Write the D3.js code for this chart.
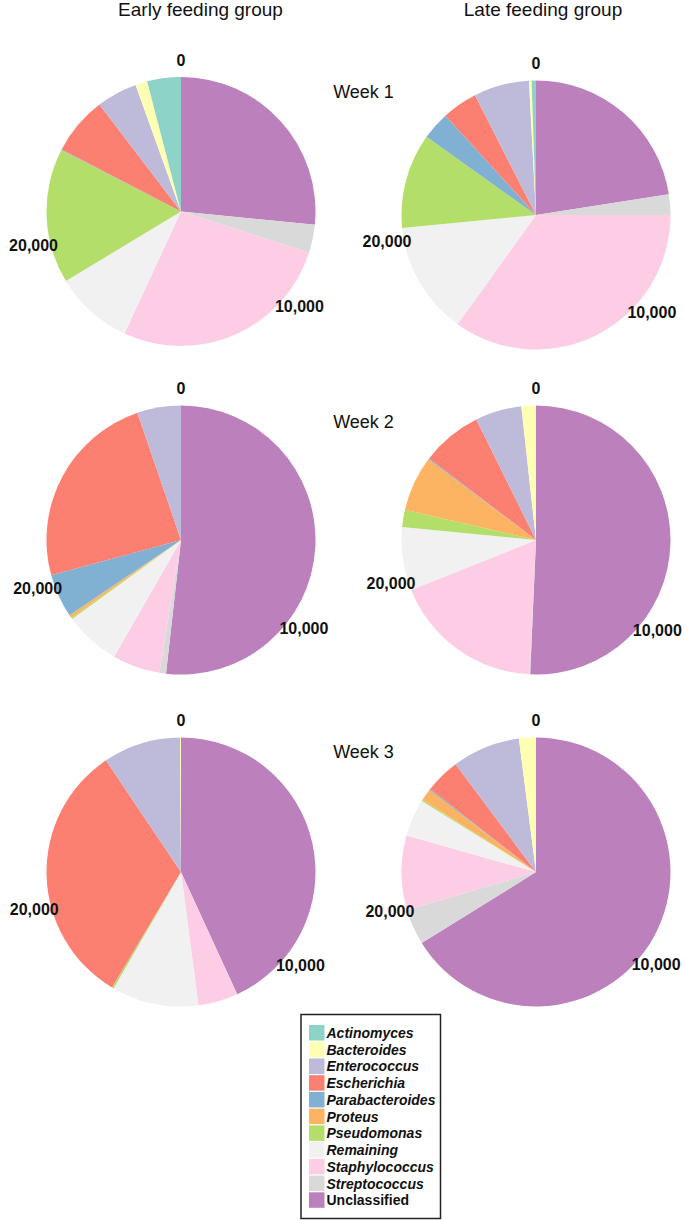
<!DOCTYPE html>
<html>
<head>
<meta charset="utf-8">
<script src="https://cdn.jsdelivr.net/npm/d3@7"></script>
<style>
  html, body { margin: 0; padding: 0; background: #fff; }
  svg { display: block; font-family: "Liberation Sans", Arial, Helvetica, sans-serif; }
</style>
</head>
<body>
<svg id="chart" width="685" height="1220"></svg>
<script>
// ---- data ----
const genera = ["Actinomyces", "Bacteroides", "Enterococcus", "Escherichia", "Parabacteroides",
  "Proteus", "Pseudomonas", "Remaining", "Staphylococcus", "Streptococcus", "Unclassified"];
const colors = ["#8DD3C7", "#FFFFB3", "#BEBADA", "#FB8072", "#80B1D3",
  "#FDB462", "#B3DE69", "#F1F1F1", "#FCCDE5", "#D9D9D9", "#BC80BD"];
const groups = ["Early feeding group", "Late feeding group"];
const weeks = ["Week 1", "Week 2", "Week 3"];
const tickValues = [0, 10000, 20000];

// read counts per genus (same order as genera)
const earlyWeek1 = [1135, 400, 1370, 1960, 20, 0, 4540, 2645, 7560, 940, 7440];
const lateWeek1  = [145, 85, 1845, 1185, 930, 0, 3155, 3755, 9660, 685, 6240];
const earlyWeek2 = [0, 0, 1505, 6870, 1490, 110, 50, 1925, 1640, 225, 14835];
const lateWeek2  = [0, 495, 1585, 2075, 40, 1885, 585, 2160, 5165, 20, 14405];
const earlyWeek3 = [0, 30, 2620, 9005, 0, 0, 65, 2930, 1350, 0, 12140];
const lateWeek3  = [0, 575, 2305, 1195, 40, 400, 45, 1265, 2525, 1210, 18690];

const samples = [
  [earlyWeek1, lateWeek1],
  [earlyWeek2, lateWeek2],
  [earlyWeek3, lateWeek3]
];

// ---- layout ----
const svg = d3.select("#chart");
const R = 134.5;
const colX = [181, 536];
const rowY = [[211.5, 215], [540, 540], [872, 872]];

const color = d3.scaleOrdinal().domain(genera).range(colors);

// headers
svg.selectAll("text.header").data(groups).join("text")
  .attr("class", "header")
  .attr("x", (d, i) => [200.5, 543][i])
  .attr("y", 16)
  .attr("text-anchor", "middle")
  .attr("font-size", 19)
  .attr("fill", "#111")
  .text(d => d);

// week labels
svg.selectAll("text.week").data(weeks).join("text")
  .attr("class", "week")
  .attr("x", 363.5)
  .attr("y", (d, i) => [97.5, 427.5, 758][i])
  .attr("text-anchor", "middle")
  .attr("font-size", 18)
  .attr("fill", "#111")
  .text(d => d);

// stacking order clockwise from 12 o'clock: last genus first
const order = genera.map((g, i) => i).reverse();

const pie = d3.pie().sort(null).value(d => d.value).startAngle(0).endAngle(2 * Math.PI);
const arc = d3.arc().innerRadius(0).outerRadius(R);

samples.forEach((row, ri) => {
  row.forEach((vals, ci) => {
    const cx = colX[ci], cy = rowY[ri][ci];
    const data = order.map(i => ({ genus: genera[i], value: vals[i] }));
    const total = d3.sum(vals);
    const g = svg.append("g").attr("transform", `translate(${cx},${cy})`);
    g.selectAll("path").data(pie(data)).join("path")
      .attr("d", arc)
      .attr("fill", d => color(d.data.genus));

    // theta axis (count scale)
    const theta = d3.scaleLinear().domain([0, total]).range([0, 2 * Math.PI]);
    const rl = R * 1.125;
    g.selectAll("text.tick").data(tickValues).join("text")
      .attr("class", "tick")
      .attr("x", d => rl * Math.sin(theta(d)))
      .attr("y", d => -rl * Math.cos(theta(d)))
      .attr("dy", "0.36em")
      .attr("text-anchor", "middle")
      .attr("font-size", 16)
      .attr("font-weight", "bold")
      .attr("fill", "#111")
      .text(d => d3.format(",")(d));
  });
});

// legend
const lg = svg.append("g");
lg.append("rect")
  .attr("x", 301).attr("y", 1014.5)
  .attr("width", 139.5).attr("height", 204)
  .attr("fill", "#fff").attr("stroke", "#222").attr("stroke-width", 1.5);
const step = 16.73;
const items = lg.selectAll("g.item").data(genera).join("g")
  .attr("class", "item")
  .attr("transform", (d, i) => `translate(309,${1025 + i * step})`);
items.append("rect")
  .attr("width", 15.5).attr("height", 15.5)
  .attr("fill", d => color(d));
items.append("text")
  .attr("x", 17.5).attr("y", 8)
  .attr("dy", "0.36em")
  .attr("font-size", 14)
  .attr("font-weight", "bold")
  .attr("font-style", d => d === "Unclassified" ? "normal" : "italic")
  .attr("fill", "#111")
  .text(d => d);
</script>
</body>
</html>
